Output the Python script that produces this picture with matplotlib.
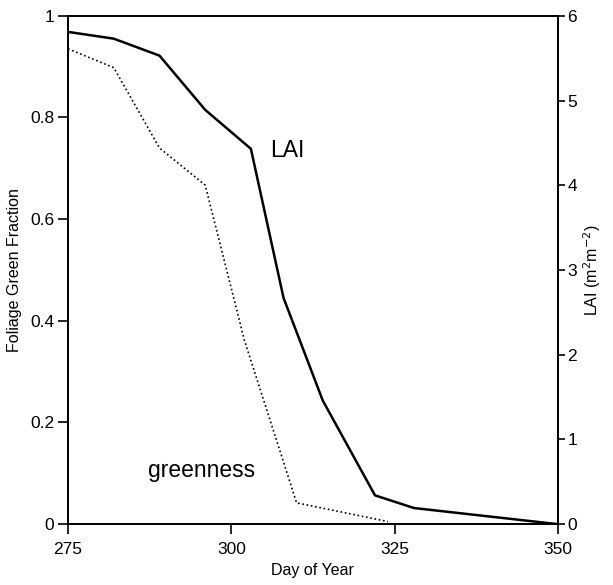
import matplotlib
matplotlib.use("Agg")
import matplotlib.pyplot as plt

plt.rcParams['font.family'] = ['Liberation Sans', 'DejaVu Sans']

# LAI (right axis, m2 m-2)
lai_days = [275, 282, 289, 296, 303, 308, 314, 322, 328, 350]
lai_values = [5.81, 5.73, 5.53, 4.89, 4.43, 2.67, 1.46, 0.34, 0.19, 0.0]

# foliage green fraction (left axis)
green_days = [275, 282, 289, 296, 302, 310, 324]
green_values = [0.935, 0.898, 0.740, 0.667, 0.362, 0.042, 0.005]

fig = plt.figure(figsize=(6.13, 5.85), dpi=100)
ax = fig.add_axes([0.111, 0.104, 0.799, 0.869])
ax2 = ax.twinx()

ax.plot(green_days, green_values, color='black', linestyle=(0, (1, 1.6)), linewidth=1.2)
ax2.plot(lai_days, lai_values, color='black', linewidth=1.8)

ax.set_xlim(275, 350)
ax.set_ylim(0, 1)
ax2.set_ylim(0, 6)

ax.set_xticks([275, 300, 325, 350])
ax.set_yticks([0, 0.2, 0.4, 0.6, 0.8, 1])
ax.set_yticklabels(['0', '0.2', '0.4', '0.6', '0.8', '1'])
ax2.set_yticks([0, 1, 2, 3, 4, 5, 6])

for a in (ax, ax2):
    for s in a.spines.values():
        s.set_linewidth(1.3)
ax.tick_params(axis='x', direction='out', length=7, width=1.2, labelsize=12.5, pad=6)
ax.tick_params(axis='y', direction='out', length=7, width=1.2, labelsize=12.5, pad=3)
ax2.tick_params(axis='y', direction='out', length=5, width=1.2, labelsize=12.5, pad=2)

ax.set_xlabel('Day of Year', fontsize=11.5, labelpad=4)
ax.set_ylabel('Foliage Green Fraction', fontsize=11.5, labelpad=6)
ax2.set_ylabel('LAI (m$^2$m$^{-2}$)', fontsize=11.5, labelpad=3)

ax.text(308.5, 0.736, 'LAI', fontsize=16.5, ha='center', va='center')
ax.text(295.4, 0.106, 'greenness', fontsize=16.5, ha='center', va='center')

fig.savefig('out.png', dpi=100)
